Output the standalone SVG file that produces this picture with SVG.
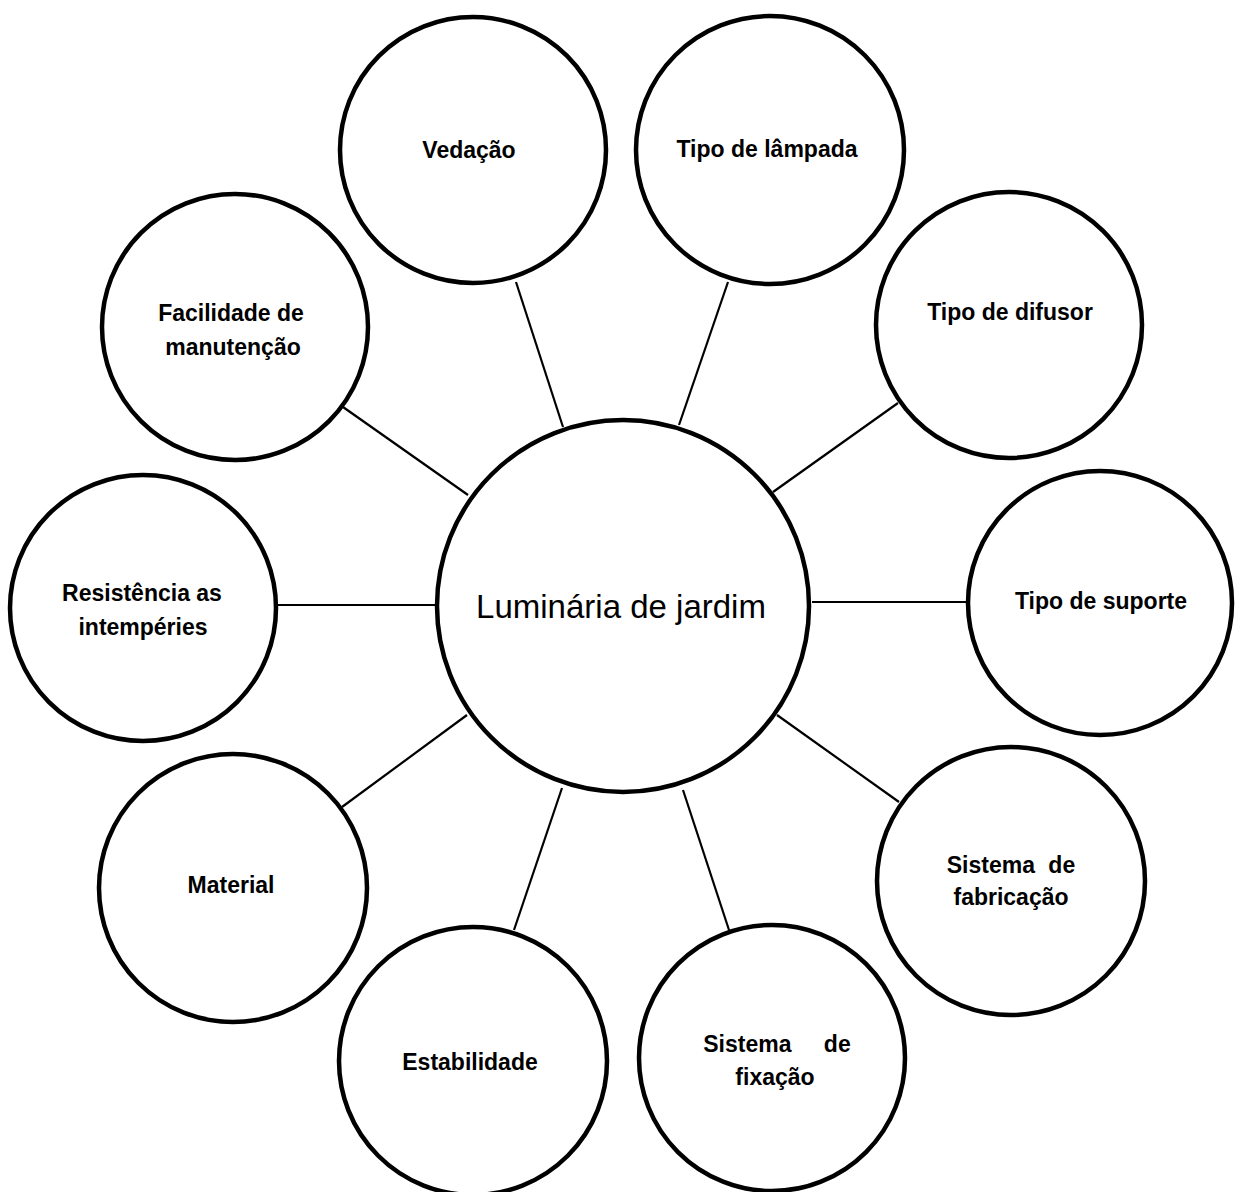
<svg xmlns="http://www.w3.org/2000/svg" width="1241" height="1192" viewBox="0 0 1241 1192">
<style>
.node circle{fill:#fff;stroke:#000;stroke-width:4.5}
.lbl{font-family:"Liberation Sans",Arial,sans-serif;font-weight:bold;font-size:23px;text-anchor:middle;fill:#000}
.main{font-family:"Liberation Sans",Arial,sans-serif;font-size:33px;text-anchor:middle;fill:#000}
#connectors line{stroke:#000;stroke-width:2.2}
</style>
<rect width="1241" height="1192" fill="#fff"/>
<g id="connectors">
<line x1="516" y1="282" x2="563" y2="427"/>
<line x1="728" y1="282" x2="679" y2="425"/>
<line x1="898" y1="403" x2="773" y2="492"/>
<line x1="812" y1="602" x2="968" y2="602"/>
<line x1="899" y1="802" x2="777" y2="715"/>
<line x1="729" y1="930" x2="683" y2="790"/>
<line x1="514" y1="930" x2="562" y2="788"/>
<line x1="342" y1="807" x2="467" y2="715"/>
<line x1="278" y1="605" x2="437" y2="605"/>
<line x1="343" y1="407" x2="468" y2="495"/>
</g>
<g id="center" class="node"><circle cx="623" cy="606" r="186"/><text class="main" x="621" y="618">Luminária de jardim</text></g>
<g id="vedacao" class="node"><circle cx="473" cy="150" r="133"/><text class="lbl" x="469" y="158">Vedação</text></g>
<g id="lampada" class="node"><circle cx="770" cy="150" r="134"/><text class="lbl" x="767" y="157">Tipo de lâmpada</text></g>
<g id="difusor" class="node"><circle cx="1009" cy="325" r="133"/><text class="lbl" x="1010" y="320">Tipo de difusor</text></g>
<g id="suporte" class="node"><circle cx="1100" cy="603" r="132"/><text class="lbl" x="1101" y="609">Tipo de suporte</text></g>
<g id="fabricacao" class="node"><circle cx="1011" cy="881" r="134"/><text class="lbl" x="1011" y="873" word-spacing="7">Sistema de</text><text class="lbl" x="1011" y="905">fabricação</text></g>
<g id="fixacao" class="node"><circle cx="772" cy="1058" r="133"/><text class="lbl" x="777" y="1052" word-spacing="26">Sistema de</text><text class="lbl" x="775" y="1085">fixação</text></g>
<g id="estabilidade" class="node"><circle cx="473" cy="1061" r="134"/><text class="lbl" x="470" y="1070">Estabilidade</text></g>
<g id="material" class="node"><circle cx="233" cy="888" r="134"/><text class="lbl" x="231" y="893">Material</text></g>
<g id="resistencia" class="node"><circle cx="143" cy="608" r="133"/><text class="lbl" x="142" y="601">Resistência as</text><text class="lbl" x="143" y="635">intempéries</text></g>
<g id="facilidade" class="node"><circle cx="235" cy="327" r="133"/><text class="lbl" x="231" y="321">Facilidade de</text><text class="lbl" x="233" y="355">manutenção</text></g>
</svg>
